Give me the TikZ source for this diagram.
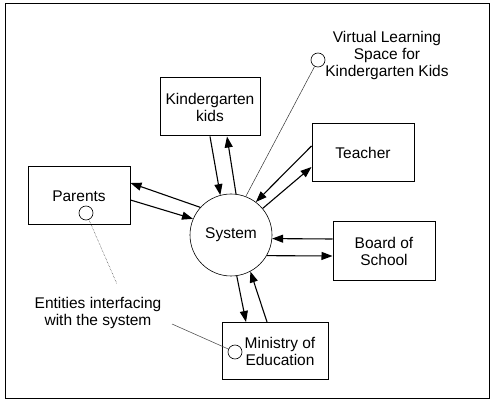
\documentclass[tikz,border=0pt]{standalone}
\usepackage{fontspec}
\setmainfont{Liberation Sans}
\usetikzlibrary{arrows.meta}
\tikzstyle{entity}=[draw, line width=1pt, minimum width=102pt, minimum height=58pt, align=center, inner sep=2pt]
\tikzstyle{flow}=[line width=1.1pt, -{Triangle[length=11pt, width=8pt]}]
\tikzstyle{marker}=[draw, circle, fill=white, line width=0.6pt, minimum size=14pt, inner sep=0pt]
\tikzstyle{leader}=[line width=0.5pt, black!80]

\begin{document}
\begin{tikzpicture}[x=1pt, y=-1pt, font=\fontsize{15.5}{17}\selectfont]
				\useasboundingbox (0,0) rectangle (496,401);
				\draw[line width=0.8pt] (5,3) rectangle (489,398);

				% the system in the middle
				\node[draw, circle, line width=0.6pt, minimum size=82pt, inner sep=0pt] (sys) at (231,235) {System};

				% entities round it
				\node[entity, minimum width=100pt] (kids) at (210,107) {Kindergarten\\kids};
				\node[entity] (teacher) at (363,153) {Teacher};
				\node[entity] (parents) at (79,196) {Parents};
				\node[entity, minimum height=59pt] (board) at (384,251) {Board of\\School};
				\node[entity, minimum width=106pt, minimum height=57pt] (ministry) at (275,351) {\hspace*{10pt}Ministry of\\\hspace*{10pt}Education};

				% data flows
				\draw[flow] (kids.south) -- (sys.105);
				\draw[flow] (sys.83) -- ([xshift=17pt]kids.south);
				\draw[flow] ([yshift=7pt]teacher.west) -- (sys.53);
				\draw[flow] (sys.40) -- ([yshift=-14pt]teacher.west);
				\draw[flow] (sys.138) -- ([yshift=13pt]parents.east);
				\draw[flow] ([yshift=-4pt]parents.east) -- (sys.157);
				\draw[flow] ([yshift=12pt]board.west) -- (sys.-5);
				\draw[flow] (sys.-30) -- ([yshift=-5pt]board.west);
				\draw[flow] (sys.-82) -- ([xshift=-29pt]ministry.north);
				\draw[flow] ([xshift=-8pt]ministry.north) -- (sys.-62);

				% callouts
				\node[marker] (vlsdot) at (318,60) {};
				\node[align=center] (vls) at (387,55) {Virtual Learning\\Space for\\Kindergarten Kids};
				\draw[leader] (vlsdot) -- (sys.69);

				\node[marker] (pdot) at (86,213) {};
				\node[marker] (mdot) at (235,352) {};
				\node[align=center] (ent) at (98,313) {Entities interfacing\\with the system};
				\coordinate (entup) at (117,284);
				\coordinate (entright) at (172,324);
				\draw[leader, densely dotted] (pdot) -- (entup);
				\draw[leader] (entright) -- (mdot);
			\end{tikzpicture}
\end{document}
